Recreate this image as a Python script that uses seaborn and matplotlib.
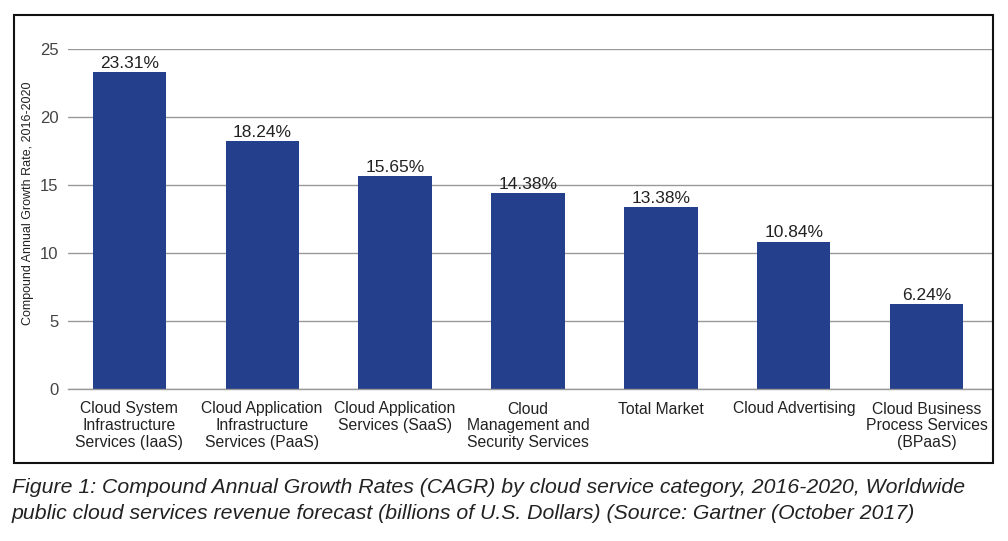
import matplotlib
matplotlib.use('Agg')
import matplotlib.pyplot as plt
import seaborn as sns
import pandas as pd
from matplotlib.patches import Rectangle

# Dados do gráfico
categorias = ['Cloud System\nInfrastructure\nServices (IaaS)',
              'Cloud Application\nInfrastructure\nServices (PaaS)',
              'Cloud Application\nServices (SaaS)',
              'Cloud\nManagement and\nSecurity Services',
              'Total Market',
              'Cloud Advertising',
              'Cloud Business\nProcess Services\n(BPaaS)']
cagr = [23.31, 18.24, 15.65, 14.38, 13.38, 10.84, 6.24]
yticks = [0, 5, 10, 15, 20, 25]

sns.set_theme(style='white')
plt.rcParams['font.family'] = ['Liberation Sans', 'DejaVu Sans']

df = pd.DataFrame({'categoria': categorias, 'cagr': cagr})

fig = plt.figure(figsize=(10.08, 5.41), dpi=100)
ax = fig.add_axes([68/1008, 152/541, 924/1008, 340/541])

sns.barplot(data=df, x='categoria', y='cagr', color='#243f8c', width=0.55,
            saturation=1, linewidth=0, ax=ax)

ax.bar_label(ax.containers[0], fmt='%.2f%%', fontsize=12.5, color='#222222', padding=1)

ax.set_ylim(0, 25)
ax.set_xlim(-0.46, 6.49)
ax.set_yticks(yticks)
ax.yaxis.grid(True, color='#999999', linewidth=1.0)
ax.set_axisbelow(True)
for lado in ['top', 'right', 'left']:
    ax.spines[lado].set_visible(False)
ax.spines['bottom'].set_color('#999999')
ax.spines['bottom'].set_linewidth(1.0)
ax.tick_params(axis='y', length=0, pad=7, labelsize=12, labelcolor='#444444')
ax.tick_params(axis='x', length=0, pad=9, labelsize=11.3, labelcolor='#222222')
for rotulo in ax.get_xticklabels():
    rotulo.set_linespacing(1.15)
ax.set_xlabel('')
ax.set_ylabel('Compound Annual Growth Rate, 2016-2020', fontsize=9, color='#222222')
ax.yaxis.set_label_coords(-34/924, 0.547)

# Moldura em volta do gráfico
fig.patches.append(Rectangle((14/1008, 1 - 463/541), 979/1008, 448/541,
                             transform=fig.transFigure, fill=False,
                             edgecolor='#111111', linewidth=1.5))

fig.text(12/1008, 1 - 478/541,
         'Figure 1: Compound Annual Growth Rates (CAGR) by cloud service category, 2016-2020, Worldwide\n'
         'public cloud services revenue forecast (billions of U.S. Dollars) (Source: Gartner (October 2017)',
         fontsize=15.3, fontstyle='italic', color='#222222', va='top', linespacing=1.45)

fig.savefig('out.png', dpi=100)
